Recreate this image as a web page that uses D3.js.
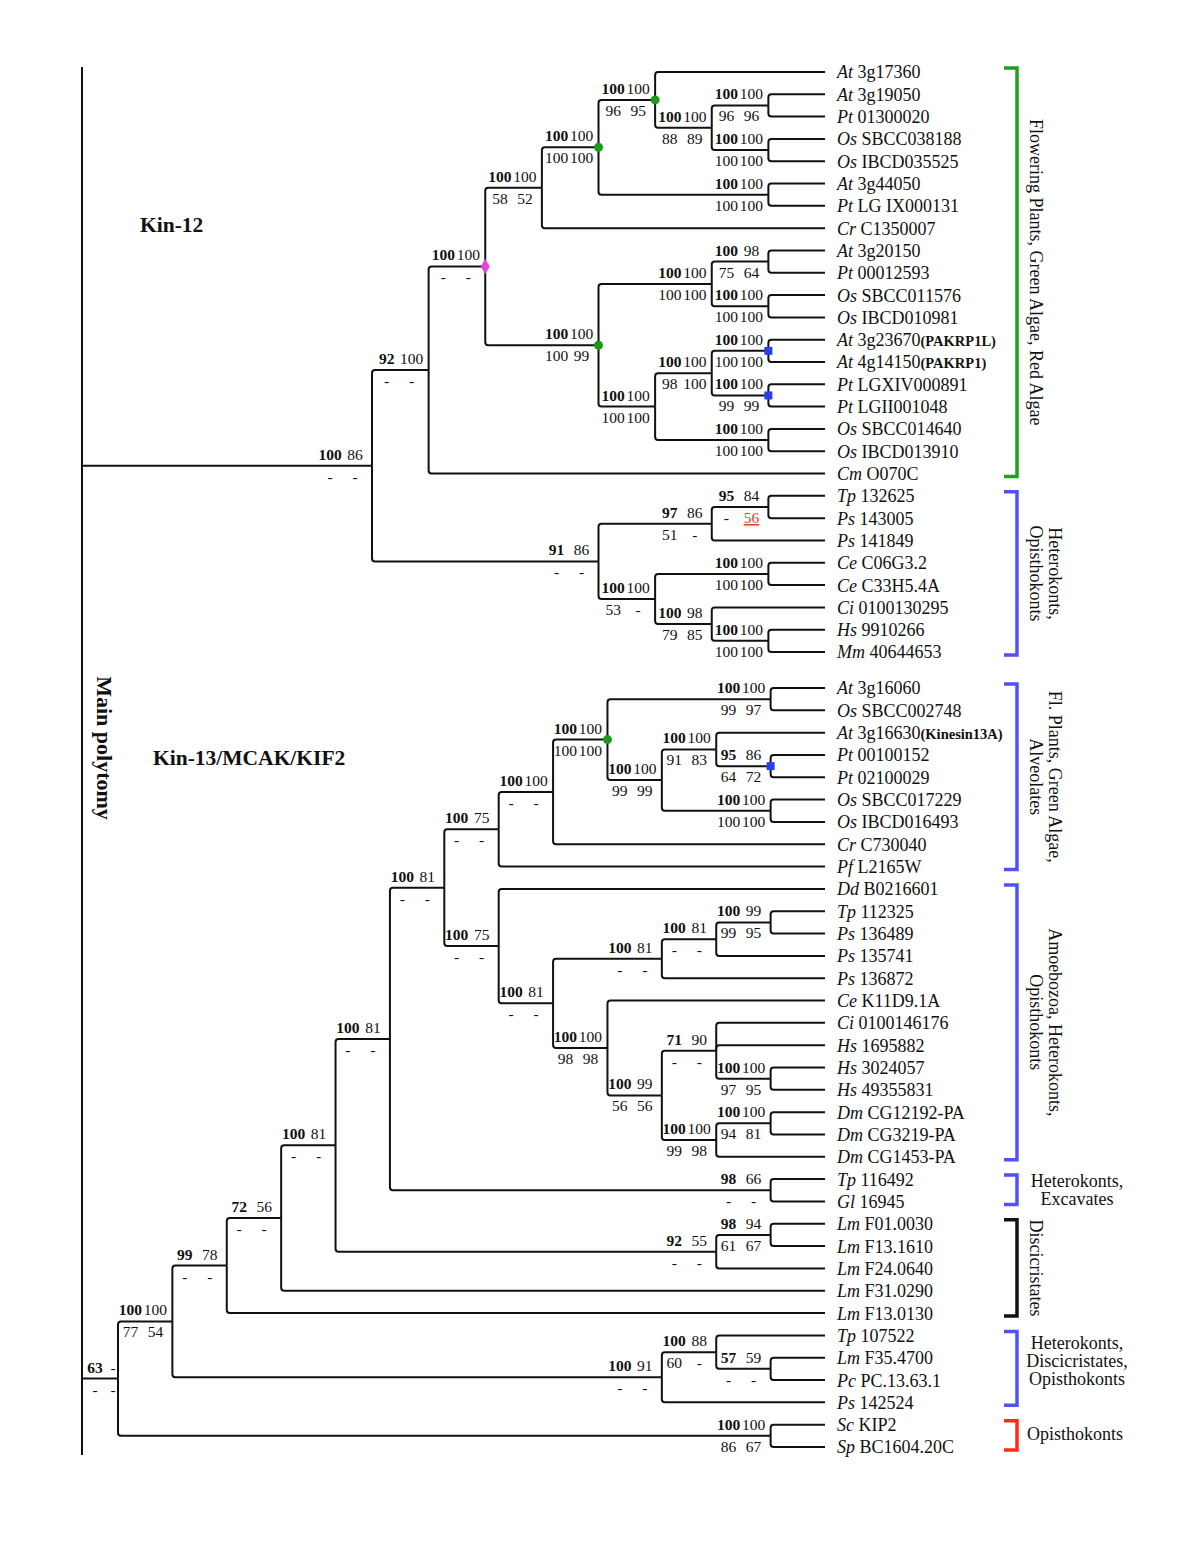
<!DOCTYPE html>
<html>
<head>
<meta charset="utf-8">
<script src="https://cdn.jsdelivr.net/npm/d3@7"></script>
<style>
  body { margin: 0; background: #fff; }
  svg text { font-family: "Liberation Serif", "Times New Roman", serif; fill: #111; }
</style>
</head>
<body>
<svg id="chart" width="1200" height="1553"></svg>
<script>
// ================= DATA =================
// Internal nodes: [id, parentId, bold support, support2, support3, support4, marker]
const kin12Nodes = [
  ["U",  "",   "100","86", "-",  "-",  ""],
  ["V",  "U",  "92", "100","-",  "-",  ""],
  ["Pk", "V",  "100","100","-",  "-",  "diamond"],
  ["X",  "Pk", "100","100","58", "52", ""],
  ["X1", "X",  "100","100","100","100","circle"],
  ["X2", "X1", "100","100","96", "95", "circle"],
  ["X4", "X2", "100","100","88", "89", ""],
  ["X5", "X4", "100","100","96", "96", ""],
  ["X6", "X4", "100","100","100","100",""],
  ["X3", "X1", "100","100","100","100",""],
  ["Y",  "Pk", "100","100","100","99", "circle"],
  ["Y1", "Y",  "100","100","100","100",""],
  ["Y3", "Y1", "100","98", "75", "64", ""],
  ["Y4", "Y1", "100","100","100","100",""],
  ["Y2", "Y",  "100","100","100","100",""],
  ["Y5", "Y2", "100","100","98", "100",""],
  ["Y7", "Y5", "100","100","100","100","square"],
  ["Y8", "Y5", "100","100","99", "99", "square"],
  ["Y6", "Y2", "100","100","100","100",""],
  ["W",  "U",  "91", "86", "-",  "-",  ""],
  ["W1", "W",  "97", "86", "51", "-",  ""],
  ["W3", "W1", "95", "84", "-",  "56", ""],
  ["W2", "W",  "100","100","53", "-",  ""],
  ["W4", "W2", "100","100","100","100",""],
  ["W5", "W2", "100","98", "79", "85", ""],
  ["W6", "W5", "100","100","100","100",""]
];
// Leaves, top to bottom: [genus, accession, note, parentId]
const kin12Leaves = [
  ["At","3g17360","","X2"],
  ["At","3g19050","","X5"],
  ["Pt","01300020","","X5"],
  ["Os","SBCC038188","","X6"],
  ["Os","IBCD035525","","X6"],
  ["At","3g44050","","X3"],
  ["Pt","LG IX000131","","X3"],
  ["Cr","C1350007","","X"],
  ["At","3g20150","","Y3"],
  ["Pt","00012593","","Y3"],
  ["Os","SBCC011576","","Y4"],
  ["Os","IBCD010981","","Y4"],
  ["At","3g23670","(PAKRP1L)","Y7"],
  ["At","4g14150","(PAKRP1)","Y7"],
  ["Pt","LGXIV000891","","Y8"],
  ["Pt","LGII001048","","Y8"],
  ["Os","SBCC014640","","Y6"],
  ["Os","IBCD013910","","Y6"],
  ["Cm","O070C","","V"],
  ["Tp","132625","","W3"],
  ["Ps","143005","","W3"],
  ["Ps","141849","","W1"],
  ["Ce","C06G3.2","","W4"],
  ["Ce","C33H5.4A","","W4"],
  ["Ci","0100130295","","W5"],
  ["Hs","9910266","","W6"],
  ["Mm","40644653","","W6"]
];
const kin13Nodes = [
  ["L",   "",    "63", "-",  "-",  "-",  ""],
  ["A",   "L",   "100","100","77", "54", ""],
  ["B",   "A",   "99", "78", "-",  "-",  ""],
  ["C",   "B",   "72", "56", "-",  "-",  ""],
  ["D",   "C",   "100","81", "-",  "-",  ""],
  ["E",   "D",   "100","81", "-",  "-",  ""],
  ["F",   "E",   "100","81", "-",  "-",  ""],
  ["G",   "F",   "100","75", "-",  "-",  ""],
  ["Hn",  "G",   "100","100","-",  "-",  ""],
  ["I",   "Hn",  "100","100","100","100","circle"],
  ["J1",  "I",   "100","100","99", "97", ""],
  ["J2",  "I",   "100","100","99", "99", ""],
  ["J3",  "J2",  "100","100","91", "83", ""],
  ["J5",  "J3",  "95", "86", "64", "72", "square"],
  ["J4",  "J2",  "100","100","100","100",""],
  ["K",   "F",   "100","75", "-",  "-",  ""],
  ["M",   "K",   "100","81", "-",  "-",  ""],
  ["N",   "M",   "100","81", "-",  "-",  ""],
  ["N1",  "N",   "100","81", "-",  "-",  ""],
  ["N2",  "N1",  "100","99", "99", "95", ""],
  ["P",   "M",   "100","100","98", "98", ""],
  ["Q",   "P",   "100","99", "56", "56", ""],
  ["R",   "Q",   "71", "90", "-",  "-",  ""],
  ["R1",  "R",   "100","100","97", "95", ""],
  ["S",   "Q",   "100","100","99", "98", ""],
  ["S1",  "S",   "100","100","94", "81", ""],
  ["TG",  "E",   "98", "66", "-",  "-",  ""],
  ["Lm92","D",   "92", "55", "-",  "-",  ""],
  ["Lm98","Lm92","98", "94", "61", "67", ""],
  ["H91", "A",   "100","91", "-",  "-",  ""],
  ["H88", "H91", "100","88", "60", "-",  ""],
  ["H57", "H88", "57", "59", "-",  "-",  ""],
  ["SS",  "L",   "100","100","86", "67", ""]
];
const kin13Leaves = [
  ["At","3g16060","","J1"],
  ["Os","SBCC002748","","J1"],
  ["At","3g16630","(Kinesin13A)","J3"],
  ["Pt","00100152","","J5"],
  ["Pt","02100029","","J5"],
  ["Os","SBCC017229","","J4"],
  ["Os","IBCD016493","","J4"],
  ["Cr","C730040","","Hn"],
  ["Pf","L2165W","","G"],
  ["Dd","B0216601","","K"],
  ["Tp","112325","","N2"],
  ["Ps","136489","","N2"],
  ["Ps","135741","","N1"],
  ["Ps","136872","","N"],
  ["Ce","K11D9.1A","","P"],
  ["Ci","0100146176","","R"],
  ["Hs","1695882","","R"],
  ["Hs","3024057","","R1"],
  ["Hs","49355831","","R1"],
  ["Dm","CG12192-PA","","S1"],
  ["Dm","CG3219-PA","","S1"],
  ["Dm","CG1453-PA","","S"],
  ["Tp","116492","","TG"],
  ["Gl","16945","","TG"],
  ["Lm","F01.0030","","Lm98"],
  ["Lm","F13.1610","","Lm98"],
  ["Lm","F24.0640","","Lm92"],
  ["Lm","F31.0290","","C"],
  ["Lm","F13.0130","","B"],
  ["Tp","107522","","H88"],
  ["Lm","F35.4700","","H57"],
  ["Pc","PC.13.63.1","","H57"],
  ["Ps","142524","","H91"],
  ["Sc","KIP2","","SS"],
  ["Sp","BC1604.20C","","SS"]
];
// Highlighted (red, underlined) support values: [tree, nodeId, valueIndex]
const highlightedValues = [["k12", "W3", 3]];
// Clade names on the right
const groupNames = [
  ["Flowering Plants, Green Algae, Red Algae"],
  ["Heterokonts,", "Opisthokonts"],
  ["Fl. Plants, Green Algae,", "Alveolates"],
  ["Amoebozoa, Heterokonts,", "Opisthokonts"],
  ["Heterokonts,", "Excavates"],
  ["Discicristates"],
  ["Heterokonts,", "Discicristates,", "Opisthokonts"],
  ["Opisthokonts"]
];
// [tree, first leaf index, last leaf index, bracket kind, vertical text]
const groupSpans = [
  ["k12", 0, 18, "green", true],
  ["k12", 19, 26, "blue", true],
  ["k13", 0, 8, "blue", true],
  ["k13", 9, 21, "blue", true],
  ["k13", 22, 23, "blue", false],
  ["k13", 24, 28, "black", true],
  ["k13", 29, 32, "blue", false],
  ["k13", 33, 34, "red", false]
];
const titles = ["Kin-12", "Kin-13/MCAK/KIF2", "Main polytomy"];

// ================= STYLE / LAYOUT =================
const bracketColor = { green: "#1f9e1f", blue: "#5252f2", black: "#111", red: "#ff2a1a" };
const markColor = { circle: "#1a9a1a", diamond: "#e046e0", square: "#2a3cf2" };
const polyX = 82, leafX = 825, labelX = 837;

const svg = d3.select("#chart");

function buildTree(nodes, leaves, tag) {
  const rows = nodes.map(n => ({ id: tag + "_" + n[0], key: n[0], tree: tag,
                                 parent: n[1] ? tag + "_" + n[1] : null,
                                 bs: [n[2], n[3], n[4], n[5]], mark: n[6] }));
  leaves.forEach((l, i) => rows.push({ id: tag + "_leaf" + i, parent: tag + "_" + l[3],
                                       genus: l[0], acc: l[1], note: l[2], order: i }));
  const root = d3.stratify().id(d => d.id).parentId(d => d.parent)(rows);
  root.eachAfter(n => { n.minOrder = n.children ? d3.min(n.children, c => c.minOrder) : n.data.order; });
  root.eachBefore(n => { if (n.children) n.children.sort((a, b) => a.minOrder - b.minOrder); });
  return root;
}

function layoutTree(root, xs, ys) {
  root.eachAfter(n => {
    n.px = xs(n.height);
    n.py = n.children ? (n.children[0].py + n.children[n.children.length - 1].py) / 2 : ys(n.data.order);
  });
}

const k12 = buildTree(kin12Nodes, kin12Leaves, "k12");
const k13 = buildTree(kin13Nodes, kin13Leaves, "k13");

const x12 = d3.scaleLinear().domain([k12.height, 0]).range([372, leafX]);
const x13 = d3.scaleLinear().domain([k13.height, 0]).range([118, leafX]);
const y12 = d3.scaleLinear().domain([0, kin12Leaves.length - 1]).range([72, 652]);
const y13 = d3.scaleLinear().domain([0, kin13Leaves.length - 1]).range([688, 1447]);
layoutTree(k12, x12, y12);
layoutTree(k13, x13, y13);

// main polytomy line
svg.append("line").attr("x1", polyX).attr("x2", polyX).attr("y1", 67).attr("y2", 1455)
  .attr("stroke", "#111").attr("stroke-width", 2);

function elbow(p, n) {
  const dy = n.py - p.py;
  const r = Math.min(3, Math.abs(dy));
  const s = Math.sign(dy);
  const path = d3.path();
  path.moveTo(p.px, p.py);
  path.lineTo(p.px, n.py - s * r);
  path.quadraticCurveTo(p.px, n.py, p.px + r, n.py);
  path.lineTo(n.px, n.py);
  return path.toString();
}

function drawTree(root) {
  const g = svg.append("g");
  g.append("line").attr("x1", polyX).attr("x2", root.px).attr("y1", root.py).attr("y2", root.py)
    .attr("stroke", "#111").attr("stroke-width", 2);
  g.selectAll("path.link").data(root.descendants().slice(1)).join("path")
    .attr("class", "link")
    .attr("d", d => elbow(d.parent, d))
    .attr("fill", "none").attr("stroke", "#111").attr("stroke-width", 2)
    .attr("stroke-linejoin", "round");

  // support labels
  const inner = root.descendants().filter(d => d.children);
  inner.forEach(n => {
    const len = n.px - (n.parent ? n.parent.px : polyX);
    const compact = len < 50;
    const cx = compact ? [n.px - 23, n.px - 5] : [n.px - 42, n.px - 17];
    const pos = [[cx[0], n.py - 6, true], [cx[1], n.py - 6, false],
                 [cx[0], n.py + 16, false], [cx[1], n.py + 16, false]];
    n.data.bs.forEach((v, i) => {
      const hl = highlightedValues.some(h => h[0] === n.data.tree && h[1] === n.data.key && h[2] === i);
      g.append("text")
        .attr("x", pos[i][0]).attr("y", pos[i][1])
        .attr("text-anchor", "middle")
        .attr("font-size", 15.5)
        .attr("font-weight", pos[i][2] ? "bold" : "normal")
        .style("fill", hl ? "#e8401c" : "#111")
        .attr("text-decoration", hl ? "underline" : null)
        .text(v);
    });
  });

  // markers
  inner.filter(n => n.data.mark).forEach(n => {
    const m = n.data.mark;
    if (m === "circle") {
      g.append("circle").attr("cx", n.px).attr("cy", n.py).attr("r", 4.5).attr("fill", markColor.circle);
    } else {
      const sym = m === "diamond" ? d3.symbolDiamond : d3.symbolSquare;
      g.append("path").attr("d", d3.symbol(sym).size(m === "diamond" ? 70 : 64)())
        .attr("transform", `translate(${n.px},${n.py})`).attr("fill", markColor[m]);
    }
  });

  // leaf labels
  const t = g.selectAll("text.leaf").data(root.leaves()).join("text")
    .attr("class", "leaf")
    .attr("x", labelX).attr("y", d => d.py).attr("dy", "0.36em")
    .attr("font-size", 18);
  t.append("tspan").attr("font-style", "italic").text(d => d.data.genus);
  t.append("tspan").text(d => " " + d.data.acc);
  t.filter(d => d.data.note).append("tspan").attr("font-weight", "bold").attr("font-size", 14.5)
    .text(d => d.data.note);
}

drawTree(k12);
drawTree(k13);

// titles
svg.append("text").attr("x", 140).attr("y", 232).attr("font-size", 21.5).attr("font-weight", "bold").text(titles[0]);
svg.append("text").attr("x", 153).attr("y", 765).attr("font-size", 21.5).attr("font-weight", "bold").text(titles[1]);
svg.append("text").attr("transform", "translate(97,748) rotate(90)").attr("text-anchor", "middle")
  .attr("font-size", 22).attr("font-weight", "bold").text(titles[2]);

// group brackets
const bx = 1017;
groupSpans.forEach((gs, gi) => {
  const ys = gs[0] === "k12" ? y12 : y13;
  const top = ys(gs[1]) - 4, bot = ys(gs[2]) + 3;
  const col = bracketColor[gs[3]];
  svg.append("path")
    .attr("d", `M${bx - 13},${top}H${bx}V${bot}H${bx - 13}`)
    .attr("fill", "none").attr("stroke", col).attr("stroke-width", 3.5);
  const lines = groupNames[gi];
  const k = lines.length;
  const cy = (top + bot) / 2;
  if (gs[4]) {
    lines.forEach((ln, i) => {
      const lx = 1030 + (k - 1 - i) * 19;
      svg.append("text").attr("transform", `translate(${lx},${cy}) rotate(90)`)
        .attr("text-anchor", "middle").attr("font-size", 18).text(ln);
    });
  } else if (k === 1) {
    svg.append("text").attr("x", 1027).attr("y", cy + 5).attr("font-size", 18).text(lines[0]);
  } else {
    const off = k === 3 ? -1 : 6;
    lines.forEach((ln, i) => {
      svg.append("text").attr("x", 1077).attr("y", cy + off + (i - (k - 1) / 2) * 18)
        .attr("text-anchor", "middle").attr("font-size", 18).text(ln);
    });
  }
});
</script>
</body>
</html>
